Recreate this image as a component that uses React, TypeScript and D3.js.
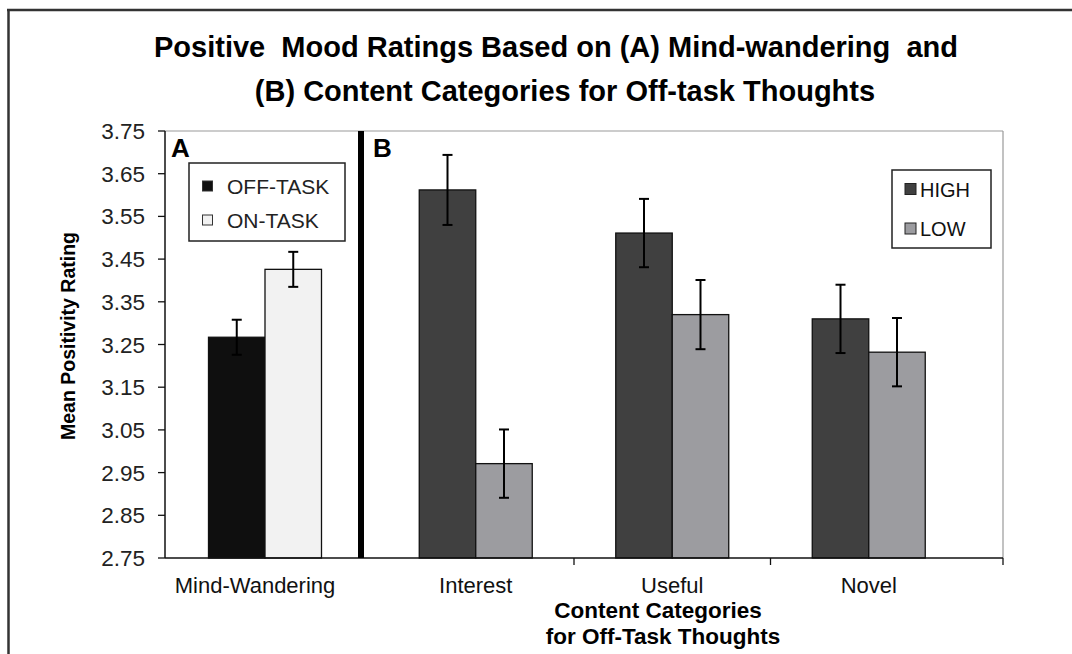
import React from "react";
import * as d3 from "d3";

const titleLines = [
  "Positive  Mood Ratings Based on (A) Mind-wandering  and",
  "(B) Content Categories for Off-task Thoughts",
];
const yTicks = [2.75, 2.85, 2.95, 3.05, 3.15, 3.25, 3.35, 3.45, 3.55, 3.65, 3.75];

const catsA = ["Mind-Wandering"];
const seriesA = ["OFF-TASK", "ON-TASK"];
const valuesA = [[3.267, 3.426]];
const errorsA = [[0.041, 0.041]];

const catsB = ["Interest", "Useful", "Novel"];
const seriesB = ["HIGH", "LOW"];
const valuesB = [
  [3.612, 2.971],
  [3.511, 3.32],
  [3.31, 3.232],
];
const errorsB = [
  [0.082, 0.08],
  [0.08, 0.081],
  [0.08, 0.08],
];

const colorsA = ["#0f0f0f", "#f2f2f2"];
const colorsB = ["#404040", "#9c9ca0"];

const FONT = "'Liberation Sans', Arial, Helvetica, sans-serif";

export default function App() {
  const top = 131;
  const bottom = 558;
  const axisX = 165;
  const rightX = 1003;
  const dividerX = 361;

  const y = d3.scaleLinear().domain([2.75, 3.75]).range([bottom, top]);

  const xA = d3.scaleBand<string>().domain(catsA).range([axisX, 365]).paddingInner(0).paddingOuter(0.385);
  const xB = d3.scaleBand<string>().domain(catsB).range([377.5, 967]).paddingInner(0.425).paddingOuter(0.2125);
  const innerA = d3.scaleBand<string>().domain(seriesA).range([0, xA.bandwidth()]);
  const innerB = d3.scaleBand<string>().domain(seriesB).range([0, xB.bandwidth()]);

  const stepB = xB.step();
  const bTickXs = [1, 2].map((k) => (xB(catsB[k]) as number) - (stepB * 0.425) / 2);

  const renderBars = (
    cats: string[],
    series: string[],
    values: number[][],
    errors: number[][],
    x: d3.ScaleBand<string>,
    inner: d3.ScaleBand<string>,
    colors: string[]
  ) =>
    cats.map((c, i) =>
      series.map((s, j) => {
        const x0 = (x(c) as number) + (inner(s) as number);
        const w = inner.bandwidth();
        const v = values[i][j];
        const e = errors[i][j];
        const cx = x0 + w / 2;
        return (
          <g key={c + s}>
            <rect x={x0} y={y(v)} width={w} height={y(2.75) - y(v)} fill={colors[j]} stroke="#111" strokeWidth={1.3} />
            <line x1={cx} x2={cx} y1={y(v + e)} y2={y(v - e)} stroke="#000" strokeWidth={2} />
            <line x1={cx - 5} x2={cx + 5} y1={y(v + e)} y2={y(v + e)} stroke="#000" strokeWidth={2} />
            <line x1={cx - 5} x2={cx + 5} y1={y(v - e)} y2={y(v - e)} stroke="#000" strokeWidth={2} />
          </g>
        );
      })
    );

  return (
    <svg
      width={1072}
      height={654}
      style={{ position: "absolute", left: 0, top: 0, background: "#fff" }}
      fontFamily={FONT}
    >
      <rect x={0} y={0} width={1072} height={654} fill="#fff" />
      {/* outer frame */}
      <line x1={7} x2={1072} y1={10} y2={10} stroke="#333" strokeWidth={2.5} />
      <line x1={8.5} x2={8.5} y1={9} y2={654} stroke="#333" strokeWidth={2.5} />

      {/* title */}
      <text x={556} y={57} textAnchor="middle" fontSize={29} fontWeight="bold" fill="#000" xmlSpace="preserve">
        {titleLines[0]}
      </text>
      <text x={565} y={101} textAnchor="middle" fontSize={29} fontWeight="bold" fill="#000">
        {titleLines[1]}
      </text>

      {/* plot frame */}
      <line x1={axisX} x2={rightX} y1={top} y2={top} stroke="#999" strokeWidth={1.2} />
      <line x1={rightX} x2={rightX} y1={top} y2={bottom} stroke="#999" strokeWidth={1.2} />

      {/* bars */}
      {renderBars(catsA, seriesA, valuesA, errorsA, xA, innerA, colorsA)}
      {renderBars(catsB, seriesB, valuesB, errorsB, xB, innerB, colorsB)}

      {/* y axis */}
      <line x1={axisX} x2={axisX} y1={top} y2={bottom} stroke="#111" strokeWidth={1.5} />
      {yTicks.map((t) => (
        <g key={t}>
          <line x1={axisX - 7} x2={axisX} y1={y(t)} y2={y(t)} stroke="#111" strokeWidth={1.3} />
          <text x={145} y={y(t) + 8} textAnchor="end" fontSize={22.5} fill="#222">
            {t.toFixed(2)}
          </text>
        </g>
      ))}
      <text
        transform={`translate(75, 336) rotate(-90)`}
        textAnchor="middle"
        fontSize={19.5}
        fontWeight="bold"
        fill="#000"
      >
        Mean Positivity Rating
      </text>

      {/* x axis */}
      <line x1={axisX} x2={rightX} y1={bottom} y2={bottom} stroke="#111" strokeWidth={1.5} />
      {bTickXs.map((tx) => (
        <line key={tx} x1={tx} x2={tx} y1={bottom} y2={bottom + 7} stroke="#111" strokeWidth={1.3} />
      ))}
      <line x1={rightX} x2={rightX} y1={bottom} y2={bottom + 7} stroke="#111" strokeWidth={1.3} />

      {/* divider */}
      <line x1={dividerX} x2={dividerX} y1={top} y2={bottom} stroke="#000" strokeWidth={6} />

      {/* category labels */}
      {catsA.map((c) => (
        <text key={c} x={(xA(c) as number) + xA.bandwidth() / 2 - 10} y={593} textAnchor="middle" fontSize={22} fill="#111">
          {c}
        </text>
      ))}
      {catsB.map((c) => (
        <text key={c} x={(xB(c) as number) + xB.bandwidth() / 2} y={593} textAnchor="middle" fontSize={22} fill="#111">
          {c}
        </text>
      ))}
      <text x={658} y={618} textAnchor="middle" fontSize={22.5} fontWeight="bold" fill="#000">
        Content Categories
      </text>
      <text x={663} y={644} textAnchor="middle" fontSize={22.5} fontWeight="bold" fill="#000">
        for Off-Task Thoughts
      </text>

      {/* panel labels */}
      <text x={171} y={157} fontSize={26} fontWeight="bold" fill="#000">A</text>
      <text x={373} y={157} fontSize={26} fontWeight="bold" fill="#000">B</text>

      {/* legend A */}
      <rect x={189} y={163} width={156} height={78} fill="#fff" stroke="#222" strokeWidth={1.5} />
      {seriesA.map((s, j) => (
        <g key={s}>
          <rect x={202.5} y={181 + j * 34} width={10} height={10} fill={colorsA[j]} stroke="#333" strokeWidth={1} />
          <text x={227} y={193.5 + j * 34} fontSize={21} fill="#222">{s}</text>
        </g>
      ))}

      {/* legend B */}
      <rect x={892} y={170} width={99} height={78} fill="#fff" stroke="#222" strokeWidth={1.5} />
      {seriesB.map((s, j) => (
        <g key={s}>
          <rect x={905} y={183.5 + j * 39.5} width={11} height={11} fill={colorsB[j]} stroke="#222" strokeWidth={1} />
          <text x={920} y={196.5 + j * 39} fontSize={20} fill="#111">{s}</text>
        </g>
      ))}
    </svg>
  );
}
